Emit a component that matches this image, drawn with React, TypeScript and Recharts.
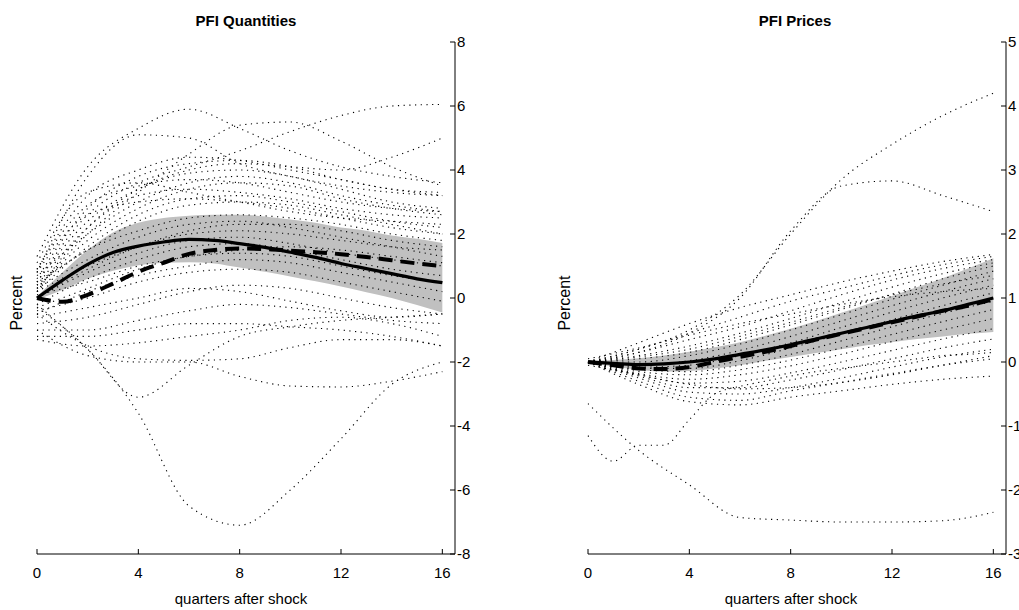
import { ComposedChart, Area, Line, XAxis, YAxis } from 'recharts';

// quarters after the shock
const quarters = [0, 1, 2, 3, 4, 5, 6, 7, 8, 9, 10, 11, 12, 13, 14, 15, 16];
const xTicks = [0, 4, 8, 12, 16];

// ---- PFI Quantities ----
const qtyBandLow = [-0.05, 0.25, 0.6, 0.85, 1.02, 1.1, 1.12, 1.08, 0.95, 0.82, 0.67, 0.52, 0.36, 0.18, 0.0, -0.22, -0.45];
const qtyBandHigh = [0.05, 0.8, 1.5, 2.05, 2.35, 2.5, 2.57, 2.6, 2.6, 2.55, 2.45, 2.35, 2.2, 2.1, 1.95, 1.85, 1.72];
const qtyMedian = [0, 0.55, 1.05, 1.42, 1.62, 1.75, 1.83, 1.8, 1.7, 1.58, 1.43, 1.27, 1.08, 0.92, 0.76, 0.6, 0.48];
const qtyMean = [0, -0.12, 0.1, 0.45, 0.82, 1.1, 1.38, 1.5, 1.55, 1.53, 1.48, 1.43, 1.37, 1.28, 1.18, 1.08, 1.0];
// individual draws, read at quarters 0,2,4,...,16
const qtyDraws: number[][] = [
  [1.3, 4.1, 5.3, 5.9, 5.3, 4.6, 4.1, 3.8, 3.6],
  [0.5, 2.6, 3.6, 4.1, 4.6, 5.2, 5.7, 6.0, 6.05],
  [0.2, 2.2, 3.4, 4.0, 4.2, 4.1, 4.0, 4.4, 5.0],
  [0.3, 2.0, 3.3, 4.5, 5.4, 5.5, 4.9, 4.1, 3.5],
  [0.8, 3.8, 5.1, 5.0, 4.2, 3.8, 3.5, 3.3, 3.2],
  [0.9, 3.2, 4.0, 4.4, 4.3, 4.0, 3.7, 3.4, 3.3],
  [0.6, 2.8, 3.8, 4.2, 4.3, 4.1, 3.7, 3.4, 3.2],
  [0.5, 2.4, 3.4, 3.9, 4.0, 3.8, 3.4, 3.0, 2.8],
  [0.7, 2.0, 3.0, 3.6, 3.8, 3.6, 3.2, 2.9, 2.7],
  [0.3, 1.8, 2.8, 3.4, 3.6, 3.5, 3.1, 2.8, 2.6],
  [0.4, 2.2, 3.2, 3.4, 3.3, 3.1, 2.8, 2.6, 2.5],
  [0.2, 1.6, 2.6, 3.1, 3.2, 3.0, 2.7, 2.4, 2.2],
  [0.5, 1.5, 2.4, 2.9, 3.0, 2.9, 2.6, 2.3, 2.0],
  [0.8, 2.6, 3.0, 3.1, 3.0, 2.8, 2.5, 2.2, 2.0],
  [1.1, 3.3, 3.6, 3.3, 3.0, 2.7, 2.5, 2.4, 2.3],
  [0.9, 2.9, 3.5, 3.7, 3.6, 3.3, 3.0, 2.8, 2.7],
  [0.2, 1.0, 1.6, 2.0, 2.1, 2.0, 1.8, 1.6, 1.5],
  [0.0, 0.8, 1.4, 1.8, 1.9, 1.7, 1.4, 1.2, 1.0],
  [-0.2, 0.6, 1.2, 1.6, 1.7, 1.5, 1.2, 0.9, 0.7],
  [0.3, 1.2, 1.9, 2.3, 2.4, 2.2, 1.9, 1.6, 1.3],
  [-0.3, 0.3, 0.9, 1.3, 1.4, 1.3, 1.0, 0.7, 0.5],
  [0.1, 0.5, 1.0, 1.3, 1.5, 1.6, 1.5, 1.3, 1.1],
  [-0.5, 0.2, 0.7, 1.0, 1.2, 1.1, 0.8, 0.5, 0.2],
  [0.0, 0.9, 1.6, 2.1, 2.3, 2.3, 2.1, 1.8, 1.6],
  [-0.4, 0.0, 0.5, 0.8, 0.9, 0.8, 0.5, 0.2, -0.1],
  [0.4, 1.5, 2.1, 2.5, 2.6, 2.5, 2.3, 2.0, 1.8],
  [-0.8, -0.6, -0.2, 0.2, 0.4, 0.3, 0.0, -0.3, -0.5],
  [-1.0, -1.0, -0.7, -0.4, -0.2, -0.3, -0.5, -0.7, -0.8],
  [-1.3, -1.5, -1.4, -1.2, -1.0, -0.7, -0.6, -0.8, -1.2],
  [-0.6, -0.3, 0.0, 0.3, 0.2, -0.1, -0.4, -0.6, -0.5],
  [-1.2, -1.2, -1.0, -0.8, -0.8, -0.9, -1.0, -1.2, -1.5],
  [-0.3, -1.6, -3.6, -6.5, -7.1, -6.0, -4.4, -2.7, -2.0],
  [-0.2, -1.6, -3.1, -2.1, -1.2, -0.9, -0.7, -0.6, -0.5],
  [-1.0, -1.8, -2.0, -2.0, -2.45, -2.75, -2.78, -2.6, -2.3],
  [-0.5, -1.5, -1.9, -1.95, -1.9, -1.55, -1.3, -1.3, -1.5],
];
const qtyTicks = [-8, -6, -4, -2, 0, 2, 4, 6, 8];

// ---- PFI Prices ----
const priceBandLow = [-0.02, -0.07, -0.12, -0.15, -0.14, -0.1, -0.05, 0.02, 0.08, 0.14, 0.2, 0.26, 0.31, 0.36, 0.4, 0.44, 0.47];
const priceBandHigh = [0.02, 0.03, 0.06, 0.1, 0.16, 0.23, 0.31, 0.41, 0.52, 0.64, 0.77, 0.9, 1.03, 1.17, 1.31, 1.46, 1.62];
const priceMedian = [0, -0.02, -0.04, -0.03, 0, 0.05, 0.12, 0.19, 0.27, 0.36, 0.45, 0.54, 0.63, 0.72, 0.8, 0.9, 1.0];
const priceMean = [0, -0.05, -0.1, -0.11, -0.08, 0, 0.08, 0.16, 0.25, 0.35, 0.44, 0.53, 0.62, 0.71, 0.8, 0.88, 0.98];
const priceDraws: number[][] = [
  [0, 0.2, 0.5, 1.05, 2.0, 2.85, 3.4, 3.85, 4.2],
  [0, 0.15, 0.45, 1.0, 2.05, 2.75, 2.83, 2.6, 2.35],
  [-0.65, -1.38, -1.92, -2.43, -2.47, -2.5, -2.5, -2.48, -2.35],
  [-1.15, -1.55, -1.3, -1.3, -0.9, -0.5, -0.38, -0.3, -0.22, -0.15, -0.1, -0.05, 0.0, 0.05, 0.1, 0.12, 0.15],
  [0, 0.3, 0.6, 0.85, 1.05, 1.25, 1.42, 1.57, 1.68],
  [0, 0.2, 0.45, 0.7, 0.95, 1.15, 1.35, 1.52, 1.65],
  [0, 0.15, 0.35, 0.55, 0.8, 1.05, 1.28, 1.46, 1.6],
  [0, 0.1, 0.25, 0.45, 0.68, 0.93, 1.17, 1.38, 1.55],
  [0, 0.05, 0.15, 0.35, 0.58, 0.82, 1.06, 1.3, 1.5],
  [0, 0.0, 0.1, 0.28, 0.5, 0.74, 0.98, 1.2, 1.42],
  [0, -0.05, 0.02, 0.18, 0.4, 0.64, 0.88, 1.1, 1.3],
  [0, -0.08, -0.05, 0.1, 0.3, 0.54, 0.78, 1.0, 1.2],
  [0, -0.1, -0.1, 0.02, 0.22, 0.44, 0.66, 0.88, 1.08],
  [0, -0.12, -0.15, -0.05, 0.12, 0.33, 0.55, 0.76, 0.95],
  [0, -0.15, -0.2, -0.12, 0.03, 0.22, 0.43, 0.63, 0.82],
  [0, -0.18, -0.27, -0.2, -0.06, 0.12, 0.32, 0.5, 0.68],
  [0, -0.2, -0.33, -0.3, -0.17, 0.0, 0.18, 0.36, 0.52],
  [0, -0.22, -0.4, -0.4, -0.28, -0.12, 0.05, 0.22, 0.36],
  [0, -0.25, -0.47, -0.5, -0.4, -0.25, -0.08, 0.08, 0.2],
  [0, -0.3, -0.55, -0.6, -0.45, -0.32, -0.18, -0.05, 0.05],
  [0, -0.35, -0.62, -0.67, -0.55, -0.45, -0.35, -0.27, -0.22],
  [0.05, 0.22, 0.42, 0.6, 0.75, 0.9, 1.02, 1.1, 1.15],
  [-0.05, -0.2, -0.35, -0.42, -0.4, -0.32, -0.2, -0.05, 0.1],
  [0, 0.08, 0.2, 0.4, 0.62, 0.85, 1.05, 1.22, 1.35],
];
const priceTicks = [-3, -2, -1, 0, 1, 2, 3, 4, 5];

const FONT = '"Liberation Sans", Arial, Helvetica, sans-serif';

type PanelProps = {
  left: number;
  width: number;
  marginLeft: number;
  marginRight: number;
  title: string;
  titleX: number;
  labelX: number;
  ylabelX: number;
  bandLow: number[];
  bandHigh: number[];
  median: number[];
  mean: number[];
  draws: number[][];
  yDomain: [number, number];
  yTicks: number[];
};

function Panel(p: PanelProps) {
  const rows = quarters.map((q, i) => ({
    q,
    band: [p.bandLow[i], p.bandHigh[i]],
    solid: p.median[i],
    dashed: p.mean[i],
  }));
  const drawData = p.draws.map(vals =>
    vals.map((v, i) => ({ q: (i * 16) / (vals.length - 1), v }))
  );

  return (
    <div style={{ position: 'absolute', left: p.left, top: 0, width: p.width, height: 610 }}>
      <ComposedChart
        width={p.width}
        height={610}
        data={rows}
        margin={{ top: 42, right: p.marginRight, bottom: 26, left: p.marginLeft }}
      >
        <XAxis
          dataKey="q"
          type="number"
          domain={[0, 16.5]}
          ticks={xTicks}
          interval={0}
          stroke="#000"
          tickSize={-5}
          tickMargin={18}
          height={30}
          tick={{ fill: '#000', fontSize: 15, fontFamily: FONT }}
        />
        <YAxis
          orientation="right"
          type="number"
          domain={p.yDomain}
          ticks={p.yTicks}
          interval={0}
          width={40}
          stroke="#000"
          tickSize={-5}
          tickMargin={7}
          tick={{ fill: '#000', fontSize: 15, fontFamily: FONT }}
        />
        <Area
          dataKey="band"
          type="monotone"
          stroke="none"
          fill="#c0c0c0"
          fillOpacity={1}
          dot={false}
          activeDot={false}
          isAnimationActive={false}
        />
        {drawData.map((d, i) => (
          <Line
            key={'d' + i}
            data={d}
            dataKey="v"
            type="monotone"
            stroke="#000"
            strokeWidth={1.1}
            strokeDasharray="1.2 4.5"
            dot={false}
            activeDot={false}
            isAnimationActive={false}
          />
        ))}
        <Line
          dataKey="dashed"
          type="monotone"
          stroke="#000"
          strokeWidth={4}
          strokeDasharray="14 8"
          dot={false}
          activeDot={false}
          isAnimationActive={false}
        />
        <Line
          dataKey="solid"
          type="monotone"
          stroke="#000"
          strokeWidth={3.2}
          dot={false}
          activeDot={false}
          isAnimationActive={false}
        />
      </ComposedChart>
      <div style={{ position: 'absolute', left: p.titleX, top: 12, transform: 'translateX(-50%)', fontFamily: FONT, fontWeight: 'bold', fontSize: 15, whiteSpace: 'nowrap' }}>
        {p.title}
      </div>
      <div style={{ position: 'absolute', left: p.labelX, top: 590, transform: 'translateX(-50%)', fontFamily: FONT, fontSize: 15, whiteSpace: 'nowrap' }}>
        quarters after shock
      </div>
      <div style={{ position: 'absolute', left: p.ylabelX, top: 303, transform: 'translate(-50%, -50%) rotate(-90deg)', fontFamily: FONT, fontSize: 16, whiteSpace: 'nowrap' }}>
        Percent
      </div>
    </div>
  );
}

export default function App() {
  return (
    <div style={{ position: 'absolute', left: 0, top: 0, width: 1019, height: 610, overflow: 'hidden', background: '#fff' }}>
      <Panel
        left={0}
        width={509}
        marginLeft={37}
        marginRight={14}
        title="PFI Quantities"
        titleX={246}
        labelX={241}
        ylabelX={17}
        bandLow={qtyBandLow}
        bandHigh={qtyBandHigh}
        median={qtyMedian}
        mean={qtyMean}
        draws={qtyDraws}
        yDomain={[-8, 8]}
        yTicks={qtyTicks}
      />
      <Panel
        left={509}
        width={540}
        marginLeft={79}
        marginRight={3}
        title="PFI Prices"
        titleX={286}
        labelX={282}
        ylabelX={56}
        bandLow={priceBandLow}
        bandHigh={priceBandHigh}
        median={priceMedian}
        mean={priceMean}
        draws={priceDraws}
        yDomain={[-3, 5]}
        yTicks={priceTicks}
      />
    </div>
  );
}
